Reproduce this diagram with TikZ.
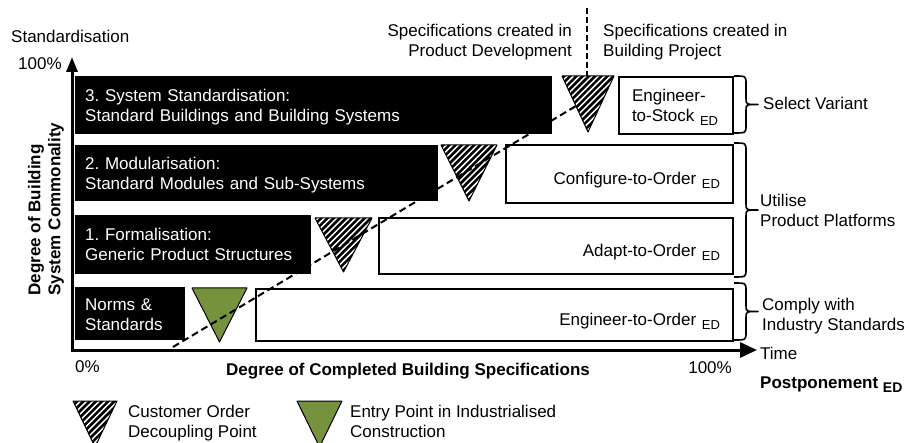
\documentclass[tikz,border=0pt]{standalone}
\usepackage{fontspec}
\setmainfont{Liberation Sans}
\usetikzlibrary{arrows.meta}
\frenchspacing
\definecolor{olivegreen}{HTML}{76923C}
\newcommand\edsub{\raisebox{-4pt}{\fontsize{13}{13}\selectfont ED}}
\newcommand\edsubb{\raisebox{-4pt}{\fontsize{14}{14}\selectfont\bfseries ED}}
\newcommand\hatchtri[4]{%
  \begin{scope}
    \clip (#1,#3) -- (#2,#3) -- ({(#1+#2)/2},#4) -- cycle;
    \fill[white] (#1,#3) rectangle (#2,#4);
    \foreach \k in {0,...,18}{\draw[line width=2.6pt] ({#1-66+\k*6.2},{#4+6}) -- ++(68,-68);}
  \end{scope}
  \draw[line width=1pt,line join=round] (#1,#3) -- (#2,#3) -- ({(#1+#2)/2},#4) -- cycle;
}
\newcommand\rbrc[3]{%
  \draw[bracestyle] (#1,#2) .. controls (#1+12,#2) .. (#1+12,#2+8)
    -- (#1+12,{(#2+#3)/2-6}) .. controls (#1+12,{(#2+#3)/2}) .. (#1+24,{(#2+#3)/2})
    .. controls (#1+12,{(#2+#3)/2}) .. (#1+12,{(#2+#3)/2+6})
    -- (#1+12,#3-8) .. controls (#1+12,#3) .. (#1,#3);
}
\begin{document}
\begin{tikzpicture}[x=1pt,y=-1pt, font=\fontsize{17}{20}\selectfont\frenchspacing,
  bar/.style={fill=black, text=white, anchor=north west, align=left, inner xsep=10pt, inner ysep=0pt, text depth=19pt},
  wbox/.style={draw, line width=2pt, fill=white, anchor=north west, inner xsep=13pt, inner ysep=0pt},
  txt/.style={inner sep=0pt, align=left},
  bold/.style={font=\fontsize{17}{20}\selectfont\bfseries},
  axisline/.style={line width=3pt},
  dashline/.style={line width=2pt, dash pattern=on 7pt off 4pt},
  bracestyle/.style={line width=1.6pt, line join=round}]
\useasboundingbox (0,0) rectangle (909,443);

% axes
\coordinate (origin) at (72,350);
\coordinate (ytop) at (72,57);
\coordinate (xend) at (757,350);
\draw[axisline, {Triangle[length=15pt,width=11pt]}-{Triangle[length=17pt,width=15pt]}] (ytop) -- (origin) -- (xend);

% black bars
\node[bar, minimum width=477pt, minimum height=58pt, text width=457pt] (b3) at (75,76) {3. System Standardisation:\\Standard Buildings and Building Systems};
\node[bar, minimum width=363pt, minimum height=56pt, text width=343pt] (b2) at (75,145) {2. Modularisation:\\Standard Modules and Sub-Systems};
\node[bar, minimum width=236pt, minimum height=59pt, text width=216pt, text depth=21pt] (b1) at (75,215) {1. Formalisation:\\Generic Product Structures};
\node[bar, minimum width=110pt, minimum height=53pt, text width=90pt] (b0) at (75,287) {Norms \&\\Standards};

% white boxes
\node[wbox, minimum width=114pt, minimum height=57pt, text width=88pt, align=left, text depth=21pt] (ets) at (618,76) {Engineer-\\to-Stock \edsub};
\node[wbox, minimum width=227pt, minimum height=58pt, text width=201pt, align=right, text height=21pt, text depth=0pt] (cto) at (505,144) {Configure-to-Order \edsub};
\node[wbox, minimum width=354pt, minimum height=56pt, text width=328pt, align=right, text height=21pt, text depth=0pt] (ato) at (378,217) {Adapt-to-Order \edsub};
\node[wbox, minimum width=477pt, minimum height=52pt, text width=451pt, align=right, text height=21pt, text depth=0pt] (eto) at (255,288) {Engineer-to-Order \edsub};

% triangles
\hatchtri{562}{614}{76}{132}
\hatchtri{441}{497}{145}{201}
\hatchtri{315}{372}{218}{272}
\draw[line width=1pt, fill=olivegreen, line join=round] (192,288) -- (247,288) -- (219.5,342) -- cycle;

% dashed lines
\coordinate (d0) at (173,347);
\coordinate (d1) at (576,106);
\draw[dashline] (d0) -- (d1);
\coordinate (v0) at (587,8);
\coordinate (v1) at (587,76);
\draw[line width=2pt, dash pattern=on 6pt off 3pt] (v0) -- (v1);

% braces
\rbrc{734}{76}{133}
\rbrc{734}{143}{277}
\rbrc{734}{283}{340}

% texts
\node[txt, anchor=base west] (stdlab) at (11,43) {Standardisation};
\node[txt, anchor=base west] (ylab100) at (18,70) {100\%};
\node[txt, anchor=base east, align=right] (specpd) at (572,57) {Specifications created in\\Product Development};
\node[txt, anchor=base west] (specbp) at (603,57) {Specifications created in\\Building Project};
\node[txt, anchor=base west] (selv) at (763,110) {Select Variant};
\node[txt, anchor=base west] (util) at (760,227) {Utilise\\Product Platforms};
\node[txt, anchor=base west] (comply) at (762,330) {Comply with\\Industry Standards};
\node[txt, anchor=base west] (zero) at (75,372) {0\%};
\node[txt, anchor=base east] (hundred) at (732,373) {100\%};
\node[txt, bold, anchor=base] (xlab) at (408,375) {Degree of Completed Building Specifications};
\node[txt, anchor=base west] (time) at (760,359) {Time};
\node[txt, bold, anchor=base west] (postp) at (760,388) {Postponement \edsubb};
\node[txt, bold, rotate=90, align=left] (ylab) at (46,209) {Degree of Building\\System Commonality};

% legend
\hatchtri{73}{117}{401}{447}
\node[txt, anchor=base west] (lg1) at (128,437) {Customer Order\\Decoupling Point};
\draw[line width=1pt, fill=olivegreen, line join=round] (297,401) -- (342,401) -- (319.5,447) -- cycle;
\node[txt, anchor=base west] (lg2) at (350,437) {Entry Point in Industrialised\\Construction};
\end{tikzpicture}
\end{document}
